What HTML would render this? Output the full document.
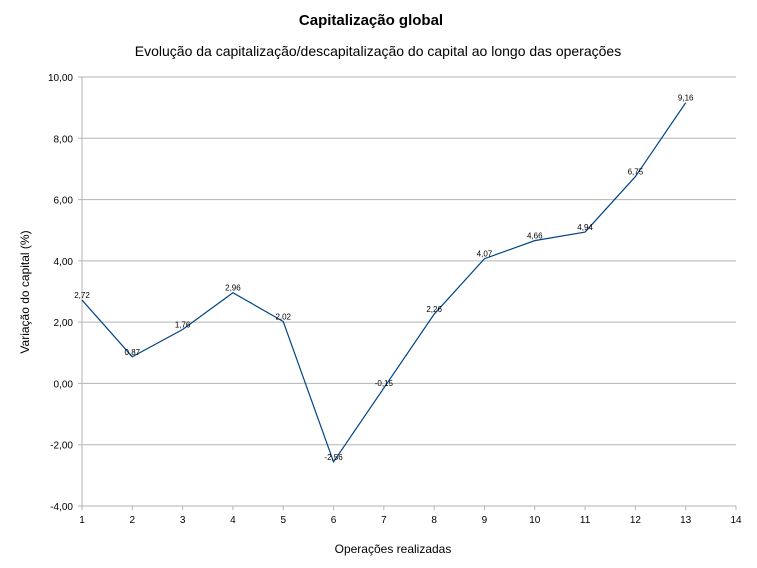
<!DOCTYPE html>
<html><head><meta charset="utf-8"><style>
body{margin:0;background:#fff;}
svg{display:block;font-family:"Liberation Sans",sans-serif;}
</style></head><body>
<svg id="chart" width="757" height="568">
<text x="371" y="25" text-anchor="middle" font-size="15" font-weight="bold">Capitalização global</text>
<text x="378" y="56" text-anchor="middle" font-size="14">Evolução da capitalização/descapitalização do capital ao longo das operações</text>
<text x="393" y="553" text-anchor="middle" font-size="12">Operações realizadas</text>
<text transform="translate(29,292) rotate(-90)" text-anchor="middle" font-size="12">Variação do capital (%)</text>
<g id="grid"></g><g id="axes"></g><g id="series"></g>
</svg>
<script>
const categories=[1,2,3,4,5,6,7,8,9,10,11,12,13];
const values=[2.72,0.87,1.76,2.96,2.02,-2.56,-0.15,2.26,4.07,4.66,4.94,6.75,9.16];
const valueLabels=["2,72","0,87","1,76","2,96","2,02","-2,56","-0,15","2,26","4,07","4,66","4,94","6,75","9,16"];
const yTicks=[-4,-2,0,2,4,6,8,10];
const yTickLabels=["-4,00","-2,00","0,00","2,00","4,00","6,00","8,00","10,00"];
const xTicks=[1,2,3,4,5,6,7,8,9,10,11,12,13,14];
const L=82,R=736,T=77,B=506;
const xs=v=>L+(v-1)*(R-L)/13;
const ys=v=>B-(v+4)*(B-T)/14;
const NS="http://www.w3.org/2000/svg";
function mk(tag,attrs,parent,txt){const e=document.createElementNS(NS,tag);for(const k in attrs)e.setAttribute(k,attrs[k]);if(txt!==undefined)e.textContent=txt;parent.appendChild(e);return e;}
const grid=document.getElementById('grid'),axes=document.getElementById('axes'),ser=document.getElementById('series');
yTicks.forEach((t,i)=>{
 const l=mk('line',{x1:L-4,x2:R,y1:ys(t),y2:ys(t),stroke:'#b3b3b3','stroke-width':1},grid);
 
 
 const tx=mk('text',{x:L-9,y:ys(t)+4,'text-anchor':'end','font-size':10},axes,yTickLabels[i]);
 
 
});
const ya=mk('line',{x1:L,x2:L,y1:T,y2:B+4,stroke:'#b3b3b3'},axes);


xTicks.forEach(t=>{
 const l=mk('line',{x1:xs(t),x2:xs(t),y1:B,y2:B+4,stroke:'#b3b3b3'},axes);
 
 
 const tx=mk('text',{x:xs(t),y:B+17,'text-anchor':'middle','font-size':10},axes,String(t));
 
 
});
const pts=values.map((v,i)=>xs(categories[i])+','+ys(v)).join(' ');
const pl=mk('polyline',{points:pts,fill:'none',stroke:'#004586','stroke-width':1.2},ser);


values.forEach((v,i)=>{
 const tx=mk('text',{x:xs(categories[i]),y:ys(v)-2,'text-anchor':'middle','font-size':8},ser,valueLabels[i]);
 
 
});
</script>
</body></html>
